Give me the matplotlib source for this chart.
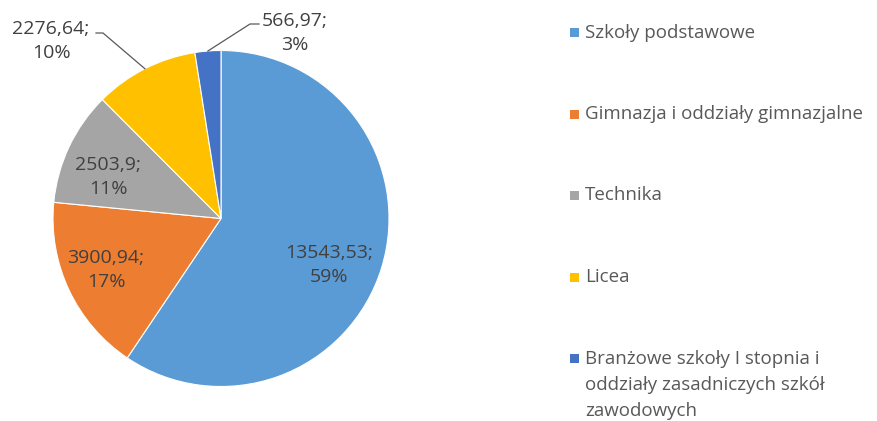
import matplotlib
matplotlib.use("Agg")
import numpy as np
import matplotlib.pyplot as plt
from matplotlib.patches import Rectangle

# Data
categories = [
    "Szkoły podstawowe",
    "Gimnazja i oddziały gimnazjalne",
    "Technika",
    "Licea",
    "Branżowe szkoły I stopnia i\noddziały zasadniczych szkół\nzawodowych",
]
values = [13543.53, 3900.94, 2503.9, 2276.64, 566.97]
percent_labels = [59, 17, 11, 10, 3]
colors = ["#5B9BD5", "#ED7D31", "#A5A5A5", "#FFC000", "#4472C4"]

W, H = 878, 421
FONT = "Open Sans"
fig = plt.figure(figsize=(W / 100, H / 100), dpi=100)

# pie geometry in pixels
cx, cy, R = 221, 218.5, 168
ax = fig.add_axes([(cx - R) / W, (H - cy - R) / H, 2 * R / W, 2 * R / H])
wedges, _ = ax.pie(values, colors=colors, startangle=90, counterclock=False,
                   radius=1, wedgeprops=dict(edgecolor="white", linewidth=0.8))
ax.set_xlim(-1, 1)
ax.set_ylim(-1, 1)
ax.set_aspect("equal")
ax.axis("off")


def px2data(px, py):
    return (px - cx) / R, (cy - py) / R


def fmt(v):
    return f"{v:.2f}".rstrip("0").rstrip(".").replace(".", ",")


# label centres (pixels) and leader line bends
label_pos = [(329, 265), (106, 270), (108, 177), (51, 41), (295, 33)]
leader_end = [None, None, None, (103, 33, 96), (250, 24, 259)]

for i, (w, v, p) in enumerate(zip(wedges, values, percent_labels)):
    x, y = px2data(*label_pos[i])
    ax.text(x, y, f"{fmt(v)};\n{p}%", ha="center", va="center",
            fontsize=14, color="#404040", family=FONT, linespacing=1.38)
    if leader_end[i] is not None:
        mid = np.deg2rad((w.theta1 + w.theta2) / 2)
        sx, sy = np.cos(mid), np.sin(mid)
        kx, ky = px2data(leader_end[i][0], leader_end[i][1])
        ex, _ = px2data(leader_end[i][2], leader_end[i][1])
        ax.plot([sx, kx, ex], [sy, ky, ky], color="#595959", lw=0.9,
                clip_on=False, solid_joinstyle="miter")

# legend on the right
leg_x, leg_y0, leg_step = 570, 32.5, 81.5
for i, (name, c) in enumerate(zip(categories, colors)):
    yc = leg_y0 + i * leg_step
    fig.patches.append(Rectangle((leg_x / W, (H - yc - 4.5) / H), 9 / W, 9 / H,
                                 transform=fig.transFigure, facecolor=c,
                                 edgecolor="none"))
    for j, line in enumerate(name.split("\n")):
        fig.text((leg_x + 15) / W, (H - yc - 26 * j) / H, line, ha="left",
                 va="center", fontsize=13.5, color="#595959", family=FONT)

fig.savefig("out.png", dpi=100)
